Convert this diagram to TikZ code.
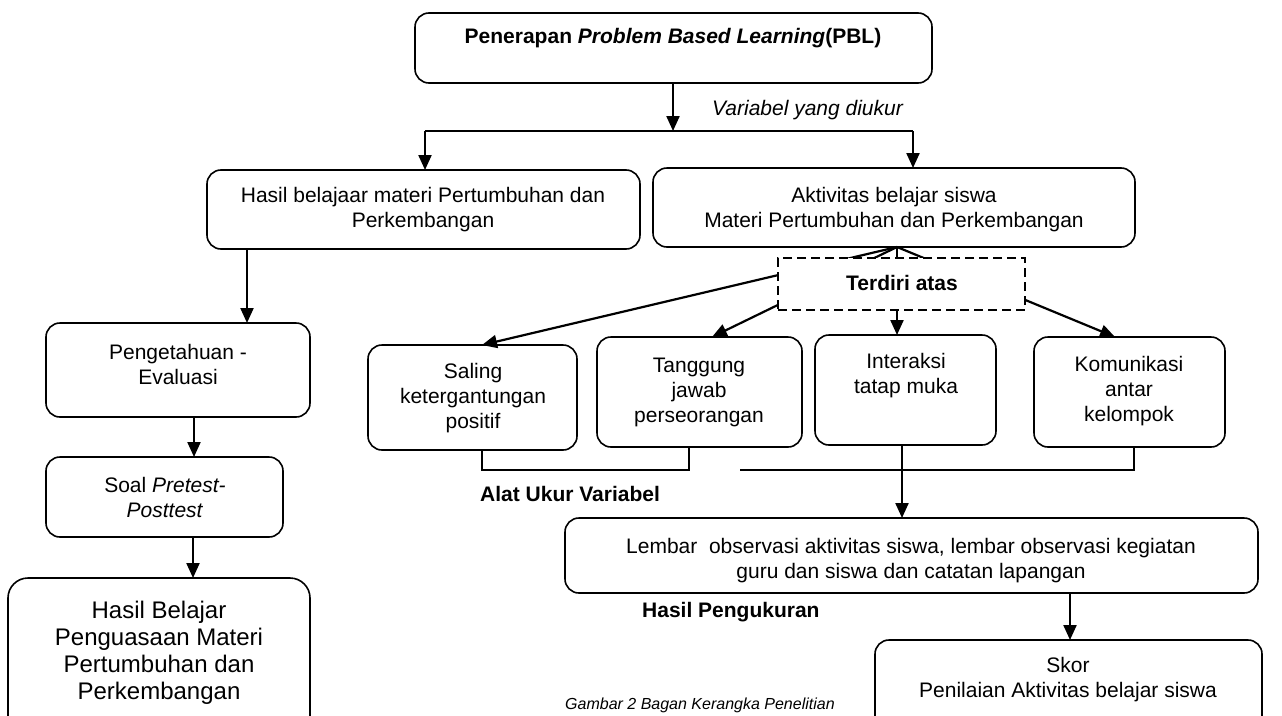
\documentclass[tikz,border=0pt]{standalone}
\usepackage{fontspec}
\setmainfont{Liberation Sans}
\usetikzlibrary{arrows.meta,calc}
\begin{document}
\begin{tikzpicture}[x=1pt,y=-1pt,
  box/.style={draw, line width=1.6pt, rounded corners=14pt, inner sep=0pt, outer sep=0pt},
  dbox/.style={draw, line width=1.6pt, dash pattern=on 9pt off 5pt, fill=white, inner sep=0pt, outer sep=0pt},
  txt/.style={align=center, inner sep=0pt, font=\fontsize{21}{25}\selectfont},
  big/.style={align=center, inner sep=0pt, font=\fontsize{24}{27}\selectfont},
  ln/.style={line width=2pt},
  arr/.style={line width=2.2pt, -{Triangle[width=13pt,length=15pt]}}]
\useasboundingbox (0,0) rectangle (1282,715);
\fill[white] (0,0) rectangle (1282,715);
\clip (0,0) rectangle (1282,715);

% guide coordinates
\coordinate (yL) at (0,131);
\coordinate (yB) at (0,470);
\coordinate (xP) at (673,0);
\coordinate (xH) at (425,0);
\coordinate (xA) at (913,0);
\coordinate (xHd) at (247,0);
\coordinate (xPe) at (194,0);
\coordinate (xSo) at (193,0);
\coordinate (xS) at (482,0);
\coordinate (xT) at (712,0);
\coordinate (xTb) at (689,0);
\coordinate (xG) at (740,0);
\coordinate (xI) at (897,0);
\coordinate (xIb) at (902,0);
\coordinate (xK) at (1115,0);
\coordinate (xKb) at (1134,0);
\coordinate (xL) at (1070,0);

% boxes
\node[box, minimum width=517pt, minimum height=70pt] (top) at (673.5,48) {};
\node[box, minimum width=433pt, minimum height=79pt] (hasil) at (423.5,209.5) {};
\node[box, minimum width=482pt, minimum height=79pt] (aktiv) at (894,207.5) {};
\node[box, minimum width=264pt, minimum height=94pt] (peng) at (178,370) {};
\node[box, minimum width=237pt, minimum height=80pt] (soal) at (164.5,497) {};
\node[box, rounded corners=20pt, minimum width=302pt, minimum height=162pt] (hb) at (159,659) {};
\node[box, minimum width=209pt, minimum height=105pt] (saling) at (472.5,397.5) {};
\node[box, minimum width=205pt, minimum height=110pt] (tang) at (699.5,392) {};
\node[box, minimum width=181pt, minimum height=110pt] (inter) at (905.5,390) {};
\node[box, minimum width=191pt, minimum height=110pt] (komun) at (1129.5,392) {};
\node[box, minimum width=693pt, minimum height=75pt] (lembar) at (911.5,555.5) {};
\node[box, minimum width=387pt, minimum height=100pt] (skor) at (1068.5,690) {};

% top connectors
\draw[arr] (top.south -| xP) -- (xP |- yL);
\draw[ln] (xH |- yL) -- (xA |- yL);
\draw[arr] (xH |- yL) -- (hasil.north -| xH);
\draw[arr] (xA |- yL) -- (aktiv.north -| xA);

% left column
\draw[arr] (hasil.south -| xHd) -- (peng.north -| xHd);
\draw[arr] (peng.south -| xPe) -- (soal.north -| xPe);
\draw[arr] (soal.south -| xSo) -- (hb.north -| xSo);

% fan
\coordinate (apex) at (aktiv.south -| xI);
\draw[arr] (apex) -- (saling.north -| xS);
\draw[arr] (apex) -- (tang.north -| xT);
\draw[arr] (apex) -- (inter.north -| xI);
\draw[arr] (apex) -- (komun.north -| xK);
\node[dbox, minimum width=247pt, minimum height=52pt] (terdiri) at (901.5,284) {};

% bracket
\draw[ln, line join=miter] (saling.south -| xS) -- (xS |- yB) -- (xTb |- yB) -- (tang.south -| xTb);
\draw[ln, line join=miter] (xG |- yB) -- (xKb |- yB) -- (komun.south -| xKb);
\draw[arr] (inter.south -| xIb) -- (lembar.north -| xIb);
\draw[arr] (lembar.south -| xL) -- (skor.north -| xL);

% texts
\node[txt, font=\fontsize{21}{25}\selectfont\bfseries] (tPBL) at (673,38) {Penerapan \textit{Problem Based Learning}(PBL)};
\node[txt, anchor=west, font=\fontsize{21}{25}\selectfont\itshape] (tVar) at (712,110) {Variabel yang diukur};
\node[txt] (tHasil) at (423,210) {Hasil belajaar materi Pertumbuhan dan\\Perkembangan};
\node[txt] (tAkt) at (894,210) {Aktivitas belajar siswa\\Materi Pertumbuhan dan Perkembangan};
\node[txt] (tPeng) at (178,364) {Pengetahuan -\\Evaluasi};
\node[txt] (tSoal) at (165,497) {Soal \textit{Pretest-}\\\textit{Posttest}};
\node[big] (tHB) at (159,653) {Hasil Belajar\\Penguasaan Materi\\Pertumbuhan dan\\Perkembangan};
\node[txt, font=\fontsize{21}{25}\selectfont\bfseries] (tTer) at (902,283) {Terdiri atas};
\node[txt] (tSal) at (473,398) {Saling\\ketergantungan\\positif};
\node[txt] (tTang) at (699,392) {Tanggung\\jawab\\perseorangan};
\node[txt] (tInt) at (906,376) {Interaksi\\tatap muka};
\node[txt] (tKom) at (1129,391) {Komunikasi\\antar\\kelompok};
\node[txt, anchor=west, font=\fontsize{21}{25}\selectfont\bfseries] (tAlat) at (480,494) {Alat Ukur Variabel};
\node[txt] (tLem) at (911,561) {Lembar\ \ observasi aktivitas siswa, lembar observasi kegiatan\\guru dan siswa dan catatan lapangan};
\node[txt, anchor=west, font=\fontsize{21}{25}\selectfont\bfseries] (tHP) at (642,612) {Hasil Pengukuran};
\node[txt] (tSkor) at (1068,680) {Skor\\Penilaian Aktivitas belajar siswa};
\node[txt, anchor=west, font=\fontsize{16}{19}\selectfont\itshape] (tGam) at (565,705) {Gambar 2 Bagan Kerangka Penelitian};
\end{tikzpicture}
\end{document}
